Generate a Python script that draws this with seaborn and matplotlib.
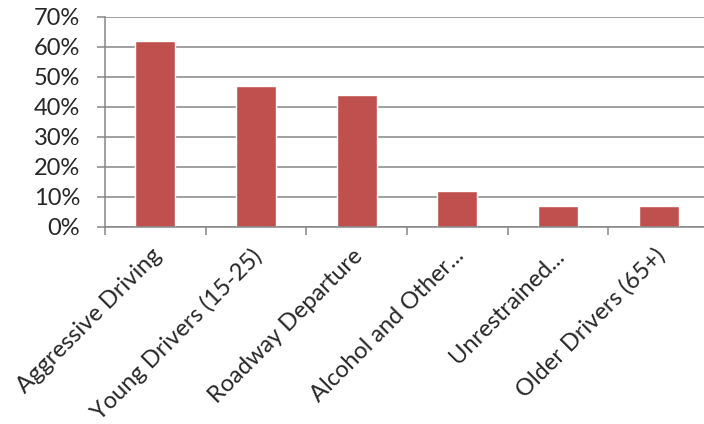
import matplotlib
matplotlib.use("Agg")
import matplotlib.pyplot as plt
import matplotlib.transforms as mtransforms
import seaborn as sns
import pandas as pd
import numpy as np
from matplotlib.ticker import FixedLocator, PercentFormatter

categories = ["Aggressive Driving", "Young Drivers (15-25)", "Roadway Departure",
              "Alcohol and Other...", "Unrestrained...", "Older Drivers (65+)"]
values = [0.62, 0.47, 0.44, 0.12, 0.07, 0.07]
yticks = [0, 0.1, 0.2, 0.3, 0.4, 0.5, 0.6, 0.7]

sns.set_style("white")
plt.rcParams['font.family'] = ['Lato', 'DejaVu Sans']

fig = plt.figure(figsize=(7.04, 4.24), dpi=100)
ax = fig.add_axes([105/704, (424-226.7)/424, 604/704, (226.7-16.7)/424])

df = pd.DataFrame({"cat": categories, "val": values})
sns.barplot(data=df, x="cat", y="val", color="#C0504D", saturation=1, width=0.4, ax=ax)

ax.set_xlim(-0.5, 5.5)
ax.set_ylim(0, 0.7)
ax.set_yticks(yticks)
ax.yaxis.set_major_formatter(PercentFormatter(1.0, decimals=0))
ax.grid(axis='y', color='#868686', linewidth=1.1)
ax.set_axisbelow(True)
ax.set_xlabel("")
ax.set_ylabel("")

for s in ['top', 'right']:
    ax.spines[s].set_visible(False)
for s in ['left', 'bottom']:
    ax.spines[s].set_color('#868686')
    ax.spines[s].set_linewidth(1.1)

ax.tick_params(axis='y', length=5.8, width=1.1, color='#868686', labelsize=17, pad=12, left=True)
ax.xaxis.set_minor_locator(FixedLocator(np.arange(-0.5, 6.0, 1.0)))
ax.tick_params(axis='x', which='minor', length=5.8, width=1.1, color='#868686', bottom=True)
ax.tick_params(axis='x', which='major', length=0, labelsize=17, pad=18.5)
offset = mtransforms.ScaledTranslation(3/100, 0, fig.dpi_scale_trans)
for lbl in ax.get_xticklabels():
    lbl.set_rotation(45)
    lbl.set_ha('right')
    lbl.set_rotation_mode('anchor')
    lbl.set_va('center')
    lbl.set_transform(lbl.get_transform() + offset)

fig.savefig("out.png", dpi=100)
